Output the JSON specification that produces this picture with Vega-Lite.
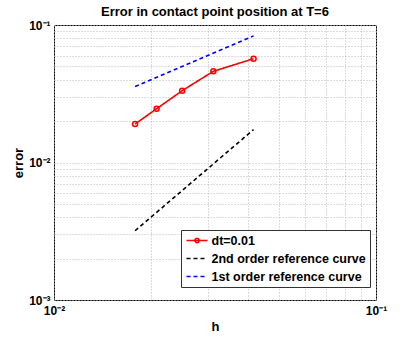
{
  "$schema": "https://vega.github.io/schema/vega-lite/v6.json",
  "width": 322,
  "height": 275,
  "autosize": "none",
  "padding": {"left": 54, "top": 25, "right": 39, "bottom": 38},
  "background": "white",
  "title": {"text": "Error in contact point position at T=6", "font": "Liberation Sans", "fontSize": 13, "fontWeight": "bold", "color": "black", "offset": 0, "anchor": "middle"},
  "config": {
    "view": {"stroke": "black", "strokeWidth": 1},
    "axis": {"domain": false, "ticks": false, "gridColor": "#b8b8b8", "gridDash": [1, 2], "gridWidth": 1, "gridOpacity": 1,
      "labelFont": "Liberation Sans", "labelFontSize": 12, "labelFontWeight": "bold", "labelColor": "black",
      "titleFont": "Liberation Sans", "titleFontSize": 13, "titleFontWeight": "bold", "titleColor": "black",
      "labelOverlap": false, "labelFlush": false}
  },
  "data": {"values": [
    {"h": 0.017857, "error": 0.01905, "series": "dt=0.01"},
    {"h": 0.020833, "error": 0.02461, "series": "dt=0.01"},
    {"h": 0.025, "error": 0.03328, "series": "dt=0.01"},
    {"h": 0.03125, "error": 0.04606, "series": "dt=0.01"},
    {"h": 0.041667, "error": 0.05689, "series": "dt=0.01"},
    {"h": 0.017857, "error": 0.003189, "series": "2nd order reference curve"},
    {"h": 0.041667, "error": 0.017361, "series": "2nd order reference curve"},
    {"h": 0.017857, "error": 0.035714, "series": "1st order reference curve"},
    {"h": 0.041667, "error": 0.083333, "series": "1st order reference curve"}
  ]},
  "layer": [
    {
      "mark": {"type": "line", "strokeWidth": 1.6, "clip": true},
      "encoding": {
        "x": {"field": "h", "type": "quantitative",
          "scale": {"type": "log", "domain": [0.01, 0.1], "nice": false},
          "axis": {"title": "h", "titlePadding": 4, "labelPadding": 5,
            "values": [0.01, 0.02, 0.03, 0.04, 0.05, 0.06, 0.07, 0.08, 0.09, 0.1],
            "labelExpr": "datum.value == 0.01 ? '10⁻²' : datum.value == 0.1 ? '10⁻¹' : ''"}},
        "y": {"field": "error", "type": "quantitative",
          "scale": {"type": "log", "domain": [0.001, 0.1], "nice": false},
          "axis": {"title": "error", "titlePadding": 3, "labelPadding": 4,
            "values": [0.001, 0.002, 0.003, 0.004, 0.005, 0.006, 0.007, 0.008, 0.009, 0.01, 0.02, 0.03, 0.04, 0.05, 0.06, 0.07, 0.08, 0.09, 0.1],
            "labelExpr": "datum.value == 0.001 ? '10⁻³' : datum.value == 0.01 ? '10⁻²' : datum.value == 0.1 ? '10⁻¹' : ''"}},
        "color": {"field": "series", "type": "nominal",
          "scale": {"domain": ["dt=0.01", "2nd order reference curve", "1st order reference curve"], "range": ["#ff0000", "#000000", "#0000ff"]},
          "legend": {"title": null, "orient": "none", "legendX": 127, "legendY": 205,
            "padding": 4, "fillColor": "white", "strokeColor": "#333333", "symbolSize": 110, "symbolStrokeWidth": 1.6,
            "symbolOffset": 5.5, "labelOffset": 8, "rowPadding": 5,
            "labelFont": "Liberation Sans", "labelFontSize": 12.5, "labelFontWeight": "bold", "labelColor": "black",
            "encode": {"symbols": {"update": {
              "shape": {"signal": "datum.value === 'dt=0.01' ? 'M-2,0L2,0M0.4,0A0.4,0.4 0 1,1 -0.4,0A0.4,0.4 0 1,1 0.4,0' : 'M-2,0L2,0'"},
              "fill": {"value": "transparent"}}}}}},
        "strokeDash": {"field": "series", "type": "nominal",
          "scale": {"domain": ["dt=0.01", "2nd order reference curve", "1st order reference curve"], "range": [[1, 0], [4, 3], [4, 3]]},
          "legend": null}
      }
    },
    {
      "transform": [{"filter": "datum.series === 'dt=0.01'"}],
      "mark": {"type": "point", "filled": false, "shape": "circle", "size": 25, "strokeWidth": 1.5, "color": "#ff0000", "opacity": 1},
      "encoding": {
        "x": {"field": "h", "type": "quantitative"},
        "y": {"field": "error", "type": "quantitative"}
      }
    }
  ]
}
